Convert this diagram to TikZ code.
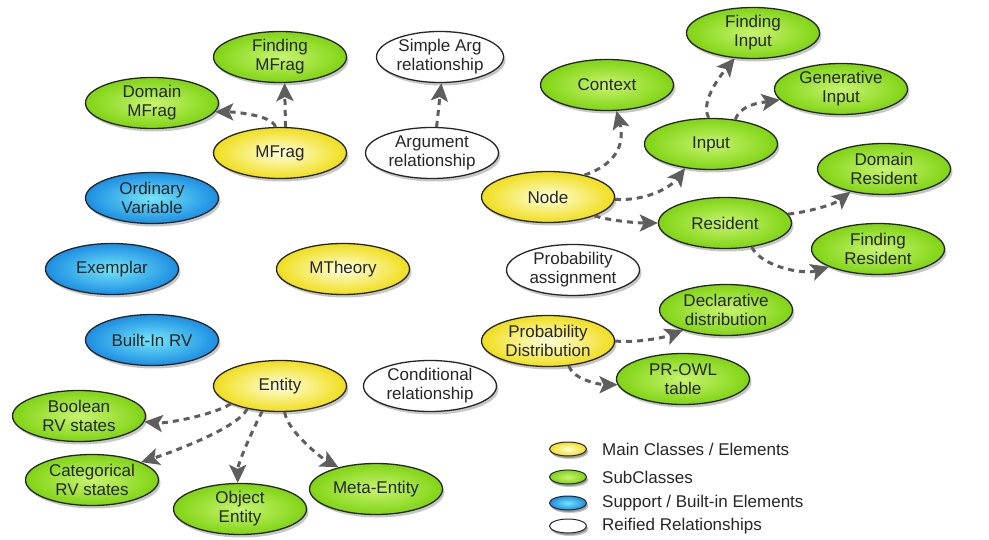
\documentclass[tikz,border=0pt]{standalone}
\usepackage{fontspec}
\setmainfont{Liberation Sans}
\usetikzlibrary{shapes.geometric,arrows.meta,shadows}
\definecolor{ylwout}{HTML}{F0DE1C}
\definecolor{ylwin}{HTML}{FFFFDC}
\definecolor{grnout}{HTML}{80D414}
\definecolor{grnin}{HTML}{C8F470}
\definecolor{bluout}{HTML}{1C8EE2}
\definecolor{bluin}{HTML}{74E6FA}
\definecolor{arrowgray}{HTML}{5E5E5E}
\begin{document}
\begin{tikzpicture}[x=1pt,y=-1pt,
  base/.style={ellipse,draw=black!85,line width=1.3pt,minimum width=133pt,minimum height=51pt,
    inner sep=0pt,align=center,text=black!85,font=\fontsize{17}{19}\selectfont,
    drop shadow={shadow xshift=2pt,shadow yshift=-3pt,fill=black,opacity=.22}},
  mainel/.style={base,inner color=ylwin,outer color=ylwout},
  subel/.style={base,inner color=grnin,outer color=grnout},
  supel/.style={base,inner color=bluin,outer color=bluout},
  relel/.style={base,fill=white},
  lgd/.style={minimum width=37pt,minimum height=14pt,font=\fontsize{1}{1}\selectfont,line width=1pt,
    drop shadow={shadow xshift=1pt,shadow yshift=-2pt,fill=black,opacity=.22}},
  lgdtext/.style={anchor=west,inner sep=0pt,font=\fontsize{17}{19}\selectfont,text=black!85},
  conn/.style={draw=arrowgray,line width=3pt,dash pattern=on 6pt off 5pt,
    -{Stealth[length=18pt,width=17pt,inset=4pt,fill=arrowgray]}}]
\useasboundingbox (0,0) rectangle (989,540);
% nodes
\node[subel] (fmfrag) at (280,57) {Finding\\MFrag};
\node[subel] (dmfrag) at (152,103) {Domain\\MFrag};
\node[mainel] (mfrag) at (280,153) {MFrag};
\node[relel,minimum width=127pt] (simplearg) at (440,57) {Simple Arg\\relationship};
\node[relel] (arg) at (432,153) {Argument\\relationship};
\node[supel] (ordvar) at (152,198) {Ordinary\\Variable};
\node[supel] (exemplar) at (112,269) {Exemplar};
\node[mainel] (mtheory) at (343,269) {MTheory};
\node[supel] (builtin) at (152,340) {Built-In RV};
\node[mainel] (entity) at (280,386) {Entity};
\node[relel] (cond) at (430,386) {Conditional\\relationship};
\node[subel] (boolean) at (79,416) {Boolean\\RV states};
\node[subel] (categ) at (92,480) {Categorical\\RV states};
\node[subel] (objent) at (240,509) {Object\\Entity};
\node[subel] (meta) at (376,489) {Meta-Entity};
\node[subel] (finput) at (753,33) {Finding\\Input};
\node[subel] (context) at (607,85) {Context};
\node[subel] (geninput) at (841,89) {Generative\\Input};
\node[subel] (input) at (711,144) {Input};
\node[subel] (dresident) at (884,169) {Domain\\Resident};
\node[mainel] (node) at (548,197) {Node};
\node[subel] (resident) at (725,223) {Resident};
\node[subel] (fresident) at (878,249) {Finding\\Resident};
\node[relel] (probassign) at (573,270) {Probability\\assignment};
\node[subel] (decl) at (726,310) {Declarative\\distribution};
\node[mainel] (probdist) at (548,341) {Probability\\Distribution};
\node[subel] (prowl) at (683,379) {PR-OWL\\table};
% connectors
\draw[conn] (mfrag.100) .. controls +(-3,-12) and +(18,0) .. (dmfrag.-8);
\draw[conn] (mfrag.78) -- (fmfrag.-80);
\draw[conn] (arg.80) -- (simplearg.-87);
\draw[conn] (node.31) .. controls +(35,-12) and +(8,30) .. (context.-70);
\draw[conn] (node.-2) .. controls +(30,2) and +(-15,20) .. (input.-137);
\draw[conn] (node.-22) .. controls +(15,5) and +(-20,0) .. (resident.180);
\draw[conn] (input.95) .. controls +(-8,-15) and +(-18,22) .. (finput.-126);
\draw[conn] (input.45) .. controls +(5,-15) and +(-20,3) .. (geninput.-170);
\draw[conn] (resident.8) .. controls +(25,-3) and +(-15,12) .. (dresident.-146);
\draw[conn] (resident.-42) .. controls +(10,20) and +(-25,8) .. (fresident.-160);
\draw[conn] (probdist.0) .. controls +(20,2) and +(-20,8) .. (decl.-155);
\draw[conn] (probdist.-50) .. controls +(5,15) and +(-15,0) .. (prowl.-175);
\draw[conn] (entity.-160) .. controls +(-20,12) and +(20,2) .. (boolean.-5);
\draw[conn] (entity.-145) .. controls +(-10,20) and +(25,-8) .. (categ.20);
\draw[conn] (entity.-125) .. controls +(-8,15) and +(0,-20) .. (objent.95);
\draw[conn] (entity.-80) .. controls +(3,20) and +(-15,-8) .. (meta.150);
% legend
\node[base,lgd,inner color=ylwin,outer color=ylwout] (lg1) at (568,449) {};
\node[base,lgd,inner color=grnin,outer color=grnout] (lg2) at (568,477) {};
\node[base,lgd,inner color=bluin,outer color=bluout] (lg3) at (568,503) {};
\node[base,lgd,fill=white] (lg4) at (568,526) {};
\node[lgdtext] (lt1) at (602,449) {Main Classes / Elements};
\node[lgdtext] (lt2) at (602,477) {SubClasses};
\node[lgdtext] (lt3) at (602,503) {Support / Built-in Elements};
\node[lgdtext] (lt4) at (602,526) {Reified Relationships};
\end{tikzpicture}
\end{document}
